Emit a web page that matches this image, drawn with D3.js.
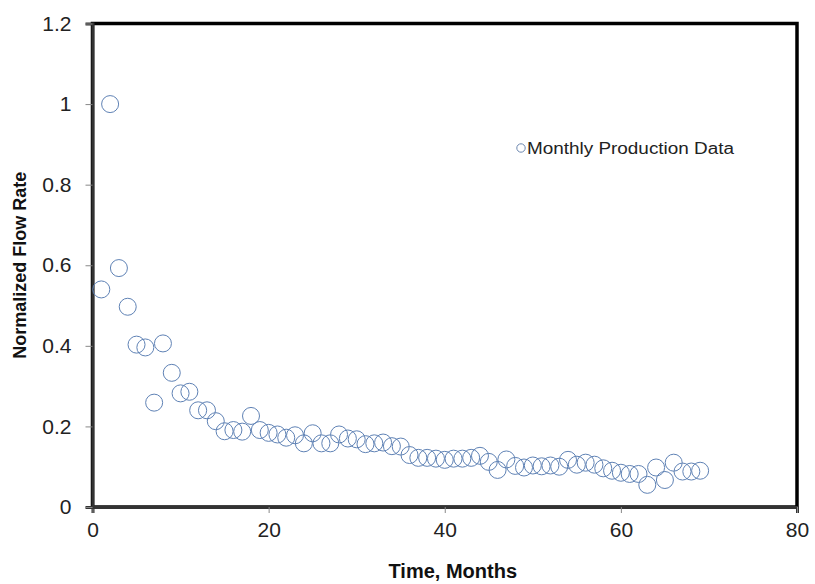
<!DOCTYPE html>
<html>
<head>
<meta charset="utf-8">
<script src="https://cdn.jsdelivr.net/npm/d3@7"></script>
<style>
  body { margin: 0; background: #fff; }
  text { font-family: Arial, "Liberation Sans", sans-serif; }
</style>
</head>
<body>
<svg width="815" height="584"></svg>
<script>
var months = d3.range(1, 70)
var flowRate = [
  0.54, 1.0, 0.593, 0.497, 0.403, 0.396, 0.259, 0.406, 0.333, 0.282,
  0.286, 0.24, 0.24, 0.213, 0.188, 0.191, 0.187, 0.226, 0.191, 0.184,
  0.18, 0.172, 0.178, 0.158, 0.183, 0.158, 0.158, 0.18, 0.17, 0.168,
  0.156, 0.158, 0.16, 0.151, 0.15, 0.129, 0.122, 0.122, 0.12, 0.117,
  0.12, 0.12, 0.122, 0.127, 0.112, 0.092, 0.118, 0.102, 0.098, 0.103,
  0.101, 0.103, 0.1, 0.117, 0.105, 0.11, 0.105, 0.096, 0.09, 0.085,
  0.082, 0.082, 0.055, 0.098, 0.067, 0.11, 0.088, 0.088, 0.09
]
var xTicks = [0, 20, 40, 60, 80]
var yTicks = [0, 0.2, 0.4, 0.6, 0.8, 1, 1.2]
var seriesName = "Monthly Production Data"

var svg = d3.select('svg')
var plotL = 92.5, plotR = 797, plotT = 23.5, plotB = 507

var x = d3.scaleLinear().domain([0, 80]).range([plotL, plotR])
var y = d3.scaleLinear().domain([0, 1.2]).range([plotB, plotT])

// frame
svg.append('rect')
  .attr('x', plotL).attr('y', plotT)
  .attr('width', plotR - plotL).attr('height', plotB - plotT)
  .attr('fill', 'none').attr('stroke', '#000').attr('stroke-width', 3.5)

// axes
var xAxis = svg.append('g')
  .attr('transform', `translate(0,${plotB})`)
  .call(d3.axisBottom(x).tickValues(xTicks).tickSize(6).tickPadding(9).tickFormat(d3.format('d')))
xAxis.select('.domain').attr('stroke', '#333').attr('stroke-width', 3)
xAxis.selectAll('.tick line').attr('stroke', '#888')
xAxis.selectAll('text').attr('font-size', 21).attr('fill', '#222')
  .attr('font-family', 'Arial, "Liberation Sans", sans-serif')

var yAxis = svg.append('g')
  .attr('transform', `translate(${plotL},0)`)
  .call(d3.axisLeft(y).tickValues(yTicks).tickSize(7).tickPadding(14).tickFormat(d => d3.format('~g')(d)))
yAxis.select('.domain').attr('stroke', '#333').attr('stroke-width', 3)
yAxis.selectAll('.tick line').attr('stroke', '#888')
yAxis.selectAll('text').attr('font-size', 21).attr('fill', '#222')
  .attr('font-family', 'Arial, "Liberation Sans", sans-serif')

// axis titles
svg.append('text')
  .attr('x', (plotL + plotR) / 2 + 8).attr('y', 578)
  .attr('text-anchor', 'middle')
  .attr('font-size', 20).attr('font-weight', 'bold').attr('fill', '#111')
  .text('Time, Months')

svg.append('text')
  .attr('transform', `translate(26,${(plotT + plotB) / 2}) rotate(-90)`)
  .attr('text-anchor', 'middle')
  .attr('font-size', 18).attr('font-weight', 'bold').attr('fill', '#111')
  .text('Normalized Flow Rate')

// points
svg.append('g')
  .selectAll('circle')
  .data(months.map((m, i) => ({ m: m, v: flowRate[i] })))
  .enter()
  .append('circle')
    .attr('cx', d => x(d.m))
    .attr('cy', d => y(d.v))
    .attr('r', 8.5)
    .attr('fill', 'none')
    .attr('stroke', '#5f82b5')
    .attr('stroke-width', 1)

// legend
svg.append('circle')
  .attr('cx', 521).attr('cy', 148).attr('r', 4.2)
  .attr('fill', 'none').attr('stroke', '#6d88b0').attr('stroke-width', 1)
svg.append('text')
  .attr('x', 527).attr('y', 154)
  .attr('font-size', 16).attr('fill', '#222')
  .attr('textLength', 207).attr('lengthAdjust', 'spacingAndGlyphs')
  .text(seriesName)
</script>
</body>
</html>
